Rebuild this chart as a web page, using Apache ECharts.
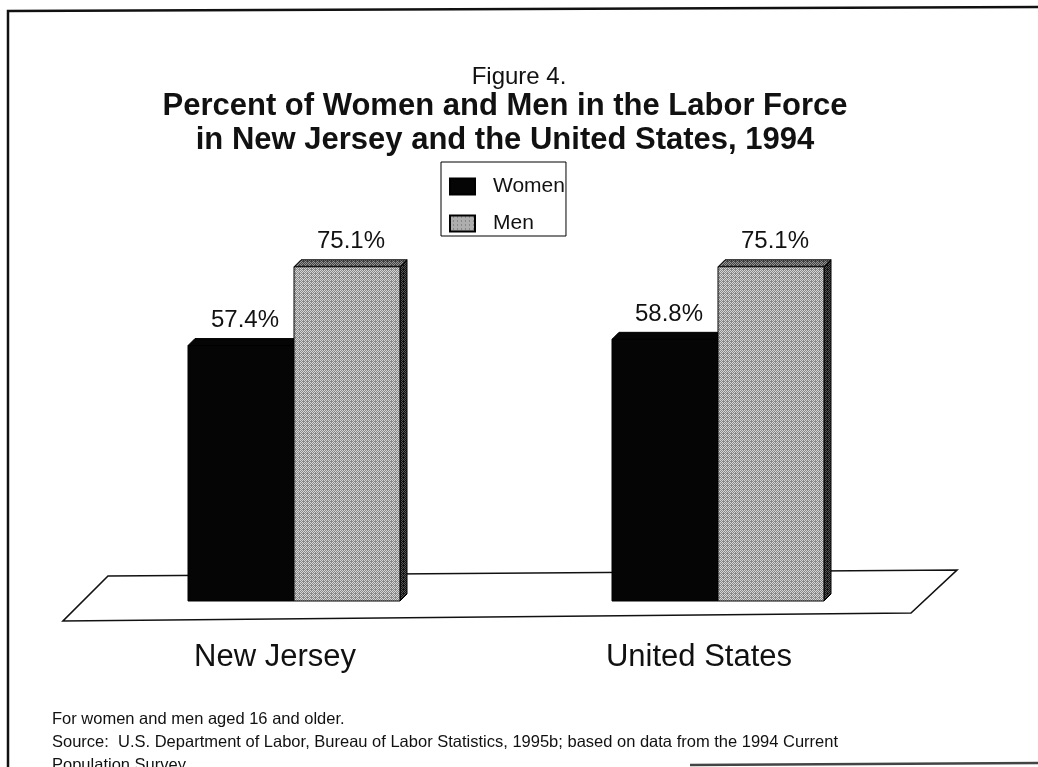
<!DOCTYPE html>
<html>
<head>
<meta charset="utf-8">
<script src="https://cdn.jsdelivr.net/npm/echarts@6/dist/echarts.min.js"></script>
<style>
  html, body { margin: 0; padding: 0; background: #fff; }
  #chart { width: 1038px; height: 767px; }
</style>
</head>
<body>
<div id="chart"></div>
<script>
// Labor force participation, 1994 (percent of population aged 16+)
const regions = ['New Jersey', 'United States'];
const seriesNames = ['Women', 'Men'];
const womenValues = [57.4, 58.8];
const menValues = [75.1, 75.1];

const FONT = "'Liberation Sans', Arial, Helvetica, sans-serif";

// Small dithered tiles to imitate the halftone shading of the bars
function ditherTile(light, dark) {
  const c = document.createElement('canvas');
  c.width = 4; c.height = 4;
  const g = c.getContext('2d');
  for (let y = 0; y < 4; y++) {
    for (let x = 0; x < 4; x++) {
      const on = ((x + y) % 2 === 0) !== (x === 3 && y === 1);
      g.fillStyle = on ? light : dark;
      g.fillRect(x, y, 1, 1);
    }
  }
  return { image: c, repeat: 'repeat' };
}
const menFront = ditherTile('#d6d6d6', '#878787');
const menTop = ditherTile('#949494', '#444444');
const menSide = ditherTile('#555555', '#111111');

const DEPTH = 7;

// Draws one bar with a shallow 3-D top face and right side face
function makeRenderer(slot, faces) {
  return function (params, api) {
    const cat = api.value(0);
    const val = api.value(1);
    const base = api.coord([cat, 0]);
    const top = api.coord([cat, val]);
    const band = api.size([1, 0])[0];
    const w = band * 0.25;
    const x0 = base[0] + slot * w;
    const x1 = x0 + w;
    const yt = top[1], yb = base[1];
    const d = DEPTH;
    const edge = { stroke: '#000', lineWidth: 1 };
    return {
      type: 'group',
      children: [
        {
          type: 'polygon',
          shape: { points: [[x1, yt], [x1 + d, yt - d], [x1 + d, yb - d], [x1, yb]] },
          style: Object.assign({ fill: faces.side }, edge)
        },
        {
          type: 'polygon',
          shape: { points: [[x0, yt], [x0 + d, yt - d], [x1 + d, yt - d], [x1, yt]] },
          style: Object.assign({ fill: faces.top }, edge)
        },
        {
          type: 'rect',
          shape: { x: x0, y: yt, width: w, height: yb - yt },
          style: Object.assign({ fill: faces.front }, edge)
        },
        {
          type: 'text',
          style: {
            text: val.toFixed(1) + '%',
            x: x0 + w / 2 + 4,
            y: yt - 25,
            align: 'center',
            verticalAlign: 'middle',
            font: '24px ' + FONT,
            fill: '#111'
          }
        }
      ]
    };
  };
}

const chart = echarts.init(document.getElementById('chart'), null, { renderer: 'canvas' });

chart.setOption({
  backgroundColor: '#ffffff',
  animation: false,
  title: [
    {
      text: 'Figure 4.',
      left: 519, top: 64, textAlign: 'center', padding: 0,
      textStyle: { fontFamily: FONT, fontSize: 24, fontWeight: 'normal', color: '#111', lineHeight: 26 }
    },
    {
      text: 'Percent of Women and Men in the Labor Force\nin New Jersey and the United States, 1994',
      left: 505, top: 89, textAlign: 'center', padding: 0,
      textStyle: { fontFamily: FONT, fontSize: 31, fontWeight: 'bold', color: '#111', lineHeight: 34 }
    },
    {
      text: 'For women and men aged 16 and older.\nSource:  U.S. Department of Labor, Bureau of Labor Statistics, 1995b; based on data from the 1994 Current\nPopulation Survey.',
      left: 52, top: 708, padding: 0,
      textStyle: { fontFamily: FONT, fontSize: 16.5, fontWeight: 'normal', color: '#111', lineHeight: 23 }
    }
  ],
  legend: {
    data: seriesNames,
    orient: 'vertical',
    left: 441, top: 162,
    padding: [14, 1, 2, 8],
    itemGap: 16,
    itemWidth: 25, itemHeight: 16,
    icon: 'rect',
    borderColor: '#000', borderWidth: 1,
    backgroundColor: '#fff',
    textStyle: { fontFamily: FONT, fontSize: 21, color: '#111', padding: [0, 0, 0, 13] }
  },
  grid: { left: 82, right: 108, top: 156, bottom: 166 },
  xAxis: {
    type: 'category',
    data: regions,
    axisLine: { show: false },
    axisTick: { show: false },
    axisLabel: {
      margin: 41,
      fontFamily: FONT, fontSize: 31, color: '#111',
      padding: [0, 38, 0, 0]
    }
  },
  yAxis: {
    type: 'value', min: 0, max: 100,
    show: false,
    splitLine: { show: false }
  },
  graphic: [
    // frame
    { type: 'polyline', z: 0, shape: { points: [[8, 767], [8, 11], [1038, 7]] }, style: { stroke: '#111', lineWidth: 2.5, fill: null } },
    { type: 'line', z: 0, shape: { x1: 690, y1: 765, x2: 1038, y2: 763 }, style: { stroke: '#444', lineWidth: 2.5 } },
    // floor plane under the bars
    { type: 'polygon', z: 0, shape: { points: [[108, 576], [957, 570], [911, 613], [63, 621]] }, style: { fill: '#fff', stroke: '#111', lineWidth: 1.6 } }
  ],
  series: [
    {
      name: 'Women',
      type: 'custom',
      z: 5,
      itemStyle: { color: '#050505', borderColor: '#000', borderWidth: 1 },
      renderItem: makeRenderer(-1, { front: '#050505', top: '#050505', side: '#050505' }),
      data: womenValues.map((v, i) => [i, v])
    },
    {
      name: 'Men',
      type: 'custom',
      z: 6,
      itemStyle: { color: menFront, borderColor: '#000', borderWidth: 1 },
      renderItem: makeRenderer(0, { front: menFront, top: menTop, side: menSide }),
      data: menValues.map((v, i) => [i, v])
    }
  ]
});
</script>
</body>
</html>
